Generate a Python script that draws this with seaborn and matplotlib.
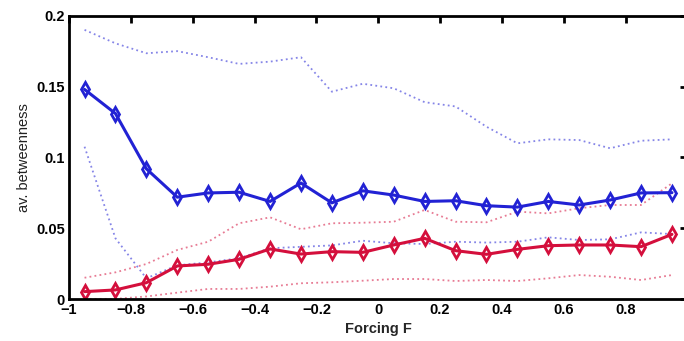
import numpy as np
import pandas as pd
import matplotlib
matplotlib.use("Agg")
import matplotlib.pyplot as plt
import seaborn as sns

# forcing values (x)
forcing = [-0.95, -0.85, -0.75, -0.65, -0.55, -0.45, -0.35, -0.25, -0.15, -0.05,
           0.05, 0.15, 0.25, 0.35, 0.45, 0.55, 0.65, 0.75, 0.85, 0.95]

# blue series: mean and dotted band
blue_mean = [0.148, 0.131, 0.092, 0.072, 0.075, 0.0755, 0.069, 0.082, 0.068, 0.0765,
             0.0735, 0.069, 0.0695, 0.066, 0.065, 0.069, 0.0665, 0.070, 0.075, 0.0752]
blue_upper = [0.190, 0.1805, 0.1735, 0.175, 0.1707, 0.166, 0.1676, 0.1707, 0.1464, 0.152,
              0.1488, 0.139, 0.136, 0.1217, 0.110, 0.1128, 0.1123, 0.1065, 0.1118, 0.1128]
blue_lower = [0.1076, 0.043, 0.0148, 0.024, 0.026, 0.029, 0.036, 0.037, 0.038, 0.0413,
              0.0395, 0.039, 0.0406, 0.040, 0.0406, 0.0437, 0.0418, 0.0423, 0.0472, 0.046]

# red series: mean and dotted band
red_mean = [0.0054, 0.0066, 0.0117, 0.0235, 0.0247, 0.0282, 0.0355, 0.0319, 0.0336, 0.0331,
            0.0383, 0.043, 0.0343, 0.0317, 0.0352, 0.0378, 0.0383, 0.0383, 0.0371, 0.0458]
red_upper = [0.0152, 0.019, 0.0249, 0.0348, 0.0406, 0.0536, 0.0578, 0.0494, 0.0536, 0.054,
             0.0547, 0.063, 0.0547, 0.0543, 0.0618, 0.0606, 0.0642, 0.0665, 0.0665, 0.0818]
red_lower = [0.0003, 0.0003, 0.002, 0.0047, 0.0073, 0.0073, 0.0089, 0.0113, 0.012, 0.0131,
             0.0143, 0.0143, 0.0129, 0.0136, 0.0129, 0.0148, 0.0171, 0.0159, 0.0136, 0.0171]

df = pd.DataFrame({"F": forcing,
                   "blue_mean": blue_mean, "blue_upper": blue_upper, "blue_lower": blue_lower,
                   "red_mean": red_mean, "red_upper": red_upper, "red_lower": red_lower})

sns.set_style("white")
plt.rcParams["font.family"] = ["Liberation Sans", "DejaVu Sans"]
plt.rcParams["font.weight"] = "bold"

blue = "#2222d4"
red = "#d40f3c"

fig = plt.figure(figsize=(6.84, 3.41), dpi=100)
ax = fig.add_axes([0.101, 0.1223, 0.904, 0.8317])

for col, c in [("blue_upper", blue), ("blue_lower", blue), ("red_upper", red), ("red_lower", red)]:
    sns.lineplot(data=df, x="F", y=col, ax=ax, color=c, linestyle=(0, (1, 1.8)),
                 linewidth=1.3, alpha=0.55)

for col, c in [("blue_mean", blue), ("red_mean", red)]:
    sns.lineplot(data=df, x="F", y=col, ax=ax, color=c, linewidth=2.2,
                 marker="d", markersize=7.5, markerfacecolor="none",
                 markeredgecolor=c, markeredgewidth=2)

ax.set_xlim(-1, 1)
ax.set_ylim(0, 0.2)
ax.set_xticks(np.round(np.arange(-1, 1.01, 0.2), 1))
ax.set_yticks([0, 0.05, 0.1, 0.15, 0.2])
ax.set_xticklabels(["\u22121", "\u22120.8", "\u22120.6", "\u22120.4", "\u22120.2",
                    "0", "0.2", "0.4", "0.6", "0.8", "1"])
ax.set_yticklabels(["0", "0.05", "0.1", "0.15", "0.2"])
ax.tick_params(direction="in", length=5, width=2, top=True, right=True,
               labelsize=10.5, pad=3, colors="black")
for lab in ax.get_xticklabels() + ax.get_yticklabels():
    lab.set_fontweight("bold")
for s in ax.spines.values():
    s.set_linewidth(2)
    s.set_color("black")

ax.set_xlabel("Forcing F", fontsize=10.5, fontweight="bold", labelpad=3)
ax.set_ylabel("av. betweenness", fontsize=10.5, fontweight="normal", labelpad=4,
              color="#222222")

fig.savefig("out.png", dpi=100)
